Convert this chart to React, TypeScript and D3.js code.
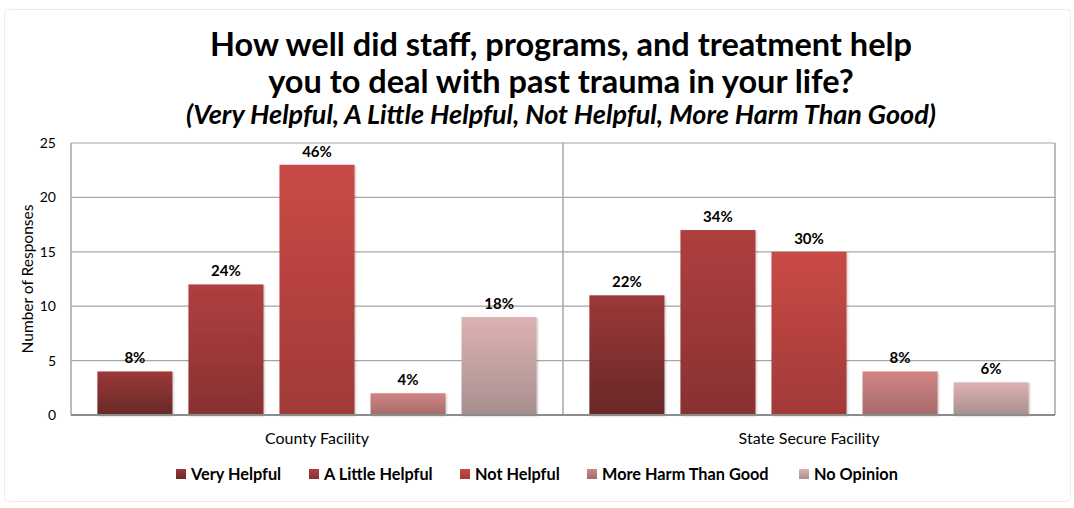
import React from 'react';
import * as d3 from 'd3';

const facilities = ['County Facility', 'State Secure Facility'];
const responses = ['Very Helpful', 'A Little Helpful', 'Not Helpful', 'More Harm Than Good', 'No Opinion'];
const countyValues = [4, 12, 23, 2, 9];
const stateValues = [11, 17, 15, 4, 3];
const countyLabels = ['8%', '24%', '46%', '4%', '18%'];
const stateLabels = ['22%', '34%', '30%', '8%', '6%'];
const yTicks = [0, 5, 10, 15, 20, 25];

// top / bottom gradient stops per response
const topColors = ['#9c3838', '#b03f3f', '#c94a46', '#d28484', '#ddb2b2'];
const bottomColors = ['#682828', '#883131', '#a13a38', '#a56b6b', '#a88f8f'];

const W = 1074;
const H = 508;
const font = 'Lato, "Open Sans", sans-serif';

export default function App() {
  const m = { left: 71, right: 1055, top: 143, bottom: 415 };

  const x0 = d3.scaleBand<string>().domain(facilities).range([m.left, m.right]);
  const x1 = d3
    .scaleBand<string>()
    .domain(responses)
    .range([0, x0.bandwidth()])
    .paddingInner(0.176)
    .paddingOuter(0.29);
  const y = d3.scaleLinear().domain([0, 25]).range([m.bottom, m.top]);

  const series = [
    { name: facilities[0], values: countyValues, labels: countyLabels },
    { name: facilities[1], values: stateValues, labels: stateLabels },
  ];

  // legend positions (left edge of swatch)
  const legendX = [176, 309, 460, 587, 799];

  return (
    <div style={{ position: 'fixed', left: 0, top: 0 }}>
      <svg width={W} height={H} style={{ display: 'block', background: '#fff' }}>
        <defs>
          {responses.map((r, i) => (
            <linearGradient key={r} id={`g${i}`} x1="0" y1="0" x2="0" y2="1">
              <stop offset="0%" stopColor={topColors[i]} />
              <stop offset="100%" stopColor={bottomColors[i]} />
            </linearGradient>
          ))}
          <filter id="shadow" x="-10%" y="-10%" width="130%" height="130%">
            <feDropShadow dx="1" dy="1" stdDeviation="1.2" floodColor="#000" floodOpacity="0.25" />
          </filter>
        </defs>

        {/* faint outer frame */}
        <rect x={4.5} y={9.5} width={1066} height={492} fill="none" stroke="#ececec" rx={4} />

        {/* title */}
        <text x={561} y={56} textAnchor="middle" fontFamily={font} fontWeight={700} fontSize={32.5} fill="#000">
          How well did staff, programs, and treatment help
        </text>
        <text x={561} y={93} textAnchor="middle" fontFamily={font} fontWeight={700} fontSize={32.5} fill="#000">
          you to deal with past trauma in your life?
        </text>
        <text x={561} y={124} textAnchor="middle" fontFamily={font} fontWeight={700} fontStyle="italic" fontSize={27} fill="#000">
          (Very Helpful, A Little Helpful, Not Helpful, More Harm Than Good)
        </text>

        {/* gridlines */}
        {yTicks.slice(1).map((t) => (
          <line key={t} x1={m.left} x2={m.right} y1={y(t)} y2={y(t)} stroke="#a6a6a6" strokeWidth={1.2} />
        ))}
        <line x1={m.left} x2={m.left} y1={m.top} y2={m.bottom} stroke="#a6a6a6" strokeWidth={1.5} />
        <line x1={m.right} x2={m.right} y1={m.top} y2={m.bottom} stroke="#a6a6a6" strokeWidth={1.5} />
        <line
          x1={x0(facilities[1])!}
          x2={x0(facilities[1])!}
          y1={m.top}
          y2={m.bottom}
          stroke="#a6a6a6"
          strokeWidth={1.5}
        />

        {/* y ticks */}
        {yTicks.map((t) => (
          <text key={t} x={56} y={y(t) + 5} textAnchor="end" fontFamily={font} fontSize={14} fill="#000">
            {t}
          </text>
        ))}
        <text
          transform={`translate(33,${(m.top + m.bottom) / 2}) rotate(-90)`}
          textAnchor="middle"
          fontFamily={font}
          fontSize={15.5}
          fill="#000"
        >
          Number of Responses
        </text>

        {/* bars */}
        {series.map((s) => (
          <g key={s.name} transform={`translate(${x0(s.name)},0)`}>
            {responses.map((r, i) => (
              <g key={r}>
                <rect
                  x={x1(r)!}
                  y={y(s.values[i])}
                  width={x1.bandwidth()}
                  height={y(0) - y(s.values[i])}
                  fill={`url(#g${i})`}
                  filter="url(#shadow)"
                />
                <text
                  x={x1(r)! + x1.bandwidth() / 2}
                  y={y(s.values[i]) - 8}
                  textAnchor="middle"
                  fontFamily={font}
                  fontWeight={700}
                  fontSize={15}
                  fill="#000"
                >
                  {s.labels[i]}
                </text>
              </g>
            ))}
            <text
              x={x0.bandwidth() / 2}
              y={444}
              textAnchor="middle"
              fontFamily={font}
              fontSize={16}
              fill="#000"
            >
              {s.name}
            </text>
          </g>
        ))}

        {/* baseline */}
        <line x1={m.left} x2={m.right} y1={m.bottom} y2={m.bottom} stroke="#8c8c8c" strokeWidth={2} />

        {/* legend */}
        {responses.map((r, i) => (
          <g key={r} transform={`translate(${legendX[i]},469)`}>
            <rect width={10} height={10} fill={`url(#g${i})`} />
            <text x={15} y={10.5} fontFamily={font} fontWeight={700} fontSize={16.3} fill="#000">
              {r}
            </text>
          </g>
        ))}
      </svg>
    </div>
  );
}
